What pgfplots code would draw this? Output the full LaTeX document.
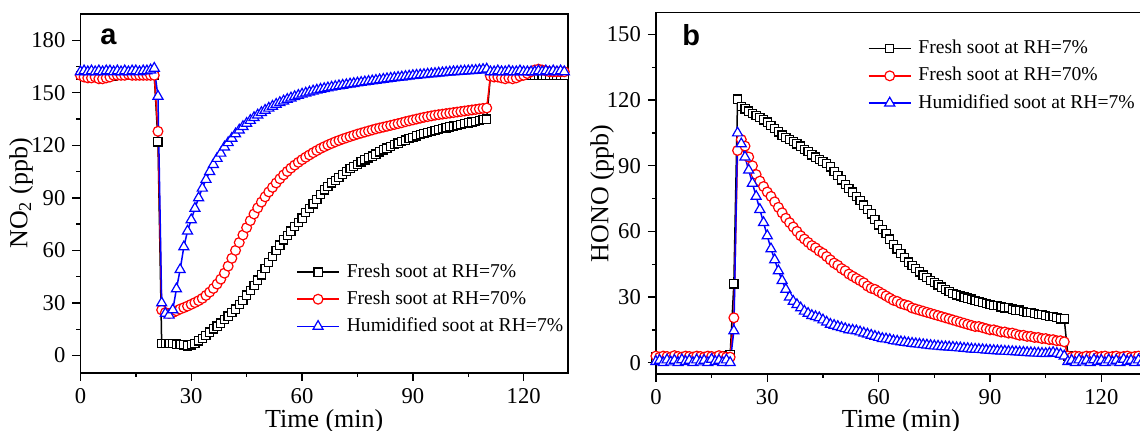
\documentclass[border=0pt]{standalone}
\usepackage{fontspec}
\setmainfont{Liberation Serif}
\newfontfamily\panelfont{Liberation Sans}
\usepackage{pgfplots}
\pgfplotsset{compat=1.18}

\pgfplotsset{
  mystyle/.style={
    scale only axis,
    axis line style={line width=0.8pt},
    xtick pos=bottom, ytick pos=left,
    tick align=outside,
    major tick length=4pt, minor tick length=2pt,
    every tick/.style={line width=0.7pt, black},
    minor x tick num=1, minor y tick num=1,
    /pgf/number format/assume math mode=true,
    ticklabel style={font=\fontsize{11.3}{13}\selectfont},
    legend style={draw=none, fill=none, inner sep=0pt,
      font=\fontsize{9.8}{12}\selectfont, row sep=2.6pt,
      nodes={inner sep=1pt, text height=7pt, text depth=2pt},
      cells={anchor=west}},
    legend cell align=left,
    legend image code/.code={\draw[mark repeat=2,mark phase=2,##1] plot coordinates {(0pt,0pt) (10.5pt,0pt) (21pt,0pt)};\path (23.5pt,0pt);},
    every axis plot/.append style={line width=0.75pt},
  },
  blk/.style={black, mark=square*, mark size=2.05pt, mark options={fill=white, line width=0.6pt}},
  rd/.style={red, mark=*, mark size=2.45pt, mark options={fill=white, line width=0.6pt}},
  bl/.style={blue, mark=triangle*, mark size=2.9pt, mark options={fill=white, line width=0.6pt}},
}

\begin{document}
\begin{tikzpicture}
% ---------------- panel a ----------------
\begin{axis}[mystyle,
  at={(40.2pt,29pt)}, anchor=south west,
  width=243.8pt, height=179.5pt,
  xmin=0, xmax=132, ymin=-10, ymax=195,
  xtick={0,30,60,90,120}, ytick={0,30,60,90,120,150,180},
  xlabel={Time (min)}, ylabel={NO\textsubscript{2} (ppb)},
  every axis x label/.style={at={(axis description cs:0.5,-0.1337)}, anchor=center, font=\fontsize{13}{15}\selectfont},
  every axis y label/.style={at={(axis description cs:-0.1218,0.5)}, anchor=center, rotate=90, font=\fontsize{13}{15}\selectfont},
  legend style={at={(0.442,0.313)}, anchor=north west},
]
\addplot[blk] table[row sep=\\] {x y\\
0 160\\ 1 160\\ 2 160\\ 3 159.5\\ 4 159.5\\ 5 159.5\\ 6 159\\ 7 159\\ 8 159.5\\ 9 159.5\\ 10 160\\
11 160\\ 12 160\\ 13 160\\ 14 160\\ 15 160\\ 16 160\\ 17 160\\ 18 160\\ 19 160\\ 20 160\\
21 122\\ 22 7\\ 23 7\\ 24 7\\ 25 6.8\\ 26 6.5\\ 27 6.3\\ 28 6\\ 29 5.5\\ 30 6\\
31 7\\ 32 8.3\\ 33 9.8\\ 34 11.5\\ 35 13.3\\ 36 15.2\\ 37 16.8\\ 38 18.5\\ 39 20.5\\ 40 22.5\\
41 24.5\\ 42 26.5\\ 43 29\\ 44 31.5\\ 45 34.5\\ 46 37\\ 47 40\\ 48 43\\ 49 46\\ 50 49.5\\
51 53\\ 52 56.5\\ 53 60\\ 54 63\\ 55 66\\ 56 68.5\\ 57 71\\ 58 73.5\\ 59 76\\ 60 78.5\\
61 81.5\\ 62 84\\ 63 86.5\\ 64 89\\ 65 92\\ 66 94.5\\ 67 96.5\\ 68 98.5\\ 69 100\\ 70 101.5\\
71 103.5\\ 72 105\\ 73 106.8\\ 74 108\\ 75 109.2\\ 76 110.5\\ 77 111.7\\ 78 112.8\\ 79 113.9\\ 80 115\\
81 116.2\\ 82 117.4\\ 83 118.4\\ 84 119.4\\ 85 120.4\\ 86 121.3\\ 87 122.2\\ 88 123\\ 89 123.8\\ 90 124.6\\
91 125.4\\ 92 126.1\\ 93 126.7\\ 94 127.3\\ 95 128\\ 96 128.5\\ 97 129\\ 98 129.5\\ 99 130\\ 100 130.5\\
101 131\\ 102 131.4\\ 103 131.9\\ 104 132.3\\ 105 132.8\\ 106 133.3\\ 107 133.7\\ 108 134.1\\ 109 134.6\\ 110 135\\
111 160\\ 112 160\\ 113 160\\ 114 159.5\\ 115 159.5\\ 116 159.5\\ 117 159.5\\ 118 159.5\\ 119 160\\ 120 160\\
121 160\\ 122 160\\ 123 160\\ 124 160\\ 125 160\\ 126 160\\ 127 160\\ 128 160\\ 129 160\\ 130 160\\ 131 160\\
};
\addlegendentry{Fresh soot at RH=7\%}
\addplot[rd] table[row sep=\\] {x y\\
0 160\\ 1 159\\ 2 158.5\\ 3 158.5\\ 4 159\\ 5 158\\ 6 158\\ 7 158.5\\ 8 159\\ 9 160\\ 10 160\\
11 160\\ 12 160\\ 13 160.5\\ 14 160\\ 15 160\\ 16 160\\ 17 160\\ 18 160\\ 19 160\\ 20 160\\
21 128\\ 22 26\\ 23 24.5\\ 24 24\\ 25 24.5\\ 26 25.5\\ 27 26.5\\ 28 27.3\\ 29 28.2\\ 30 29.2\\
31 30.2\\ 32 31.3\\ 33 32.6\\ 34 34.3\\ 35 36.2\\ 36 38.3\\ 37 40.8\\ 38 43.6\\ 39 47\\ 40 51\\
41 55.5\\ 42 60\\ 43 64.5\\ 44 68.8\\ 45 73\\ 46 77\\ 47 80.8\\ 48 84.3\\ 49 87.6\\ 50 90.6\\
51 93.4\\ 52 96\\ 53 98.5\\ 54 100.9\\ 55 103.1\\ 56 105.1\\ 57 107\\ 58 108.7\\ 59 110.3\\ 60 111.8\\
61 113.2\\ 62 114.5\\ 63 115.8\\ 64 117\\ 65 118.2\\ 66 119.2\\ 67 120.2\\ 68 121.1\\ 69 122\\ 70 122.8\\
71 123.6\\ 72 124.3\\ 73 125\\ 74 125.7\\ 75 126.4\\ 76 127\\ 77 127.6\\ 78 128.2\\ 79 128.8\\ 80 129.4\\
81 129.9\\ 82 130.4\\ 83 130.9\\ 84 131.4\\ 85 131.9\\ 86 132.4\\ 87 132.9\\ 88 133.5\\ 89 134\\ 90 134.5\\
91 135\\ 92 135.5\\ 93 136\\ 94 136.4\\ 95 136.8\\ 96 137.2\\ 97 137.5\\ 98 137.8\\ 99 138.1\\ 100 138.4\\
101 138.7\\ 102 139\\ 103 139.3\\ 104 139.6\\ 105 139.9\\ 106 140.2\\ 107 140.5\\ 108 140.8\\ 109 141.1\\ 110 141.3\\
111 159.5\\ 112 159\\ 113 159\\ 114 158.5\\ 115 158\\ 116 158.5\\ 117 158\\ 118 158.5\\ 119 159.5\\ 120 160\\
121 161\\ 122 162\\ 123 163\\ 124 163.5\\ 125 163\\ 126 162.5\\ 127 162\\ 128 162\\ 129 162\\ 130 162\\ 131 162\\
};
\addlegendentry{Fresh soot at RH=70\%}
\addplot[bl] table[row sep=\\] {x y\\
0 162\\ 1 162.5\\ 2 162\\ 3 162.5\\ 4 162\\ 5 162.5\\ 6 162\\ 7 162.5\\ 8 162.5\\ 9 162\\ 10 162.5\\
11 162\\ 12 162.5\\ 13 162\\ 14 162.5\\ 15 162.5\\ 16 162\\ 17 162.5\\ 18 162.5\\ 19 163\\ 20 164\\
21 148\\ 22 30\\ 23 24\\ 24 23\\ 25 26\\ 26 38\\ 27 49\\ 28 62\\ 29 71\\ 30 77.5\\
31 84\\ 32 90\\ 33 95.5\\ 34 100.5\\ 35 105\\ 36 109\\ 37 112.5\\ 38 115.5\\ 39 119\\ 40 121.5\\
41 124\\ 42 126.5\\ 43 128.7\\ 44 130.7\\ 45 132.5\\ 46 134.2\\ 47 135.8\\ 48 137.3\\ 49 138.7\\ 50 140\\
51 141.2\\ 52 142.3\\ 53 143.4\\ 54 144.4\\ 55 145.3\\ 56 146.2\\ 57 147\\ 58 147.8\\ 59 148.5\\ 60 149.2\\
61 149.8\\ 62 150.4\\ 63 151\\ 64 151.5\\ 65 152\\ 66 152.4\\ 67 152.8\\ 68 153.2\\ 69 153.6\\ 70 154\\
71 154.3\\ 72 154.6\\ 73 155\\ 74 155.3\\ 75 155.6\\ 76 155.9\\ 77 156.2\\ 78 156.5\\ 79 156.8\\ 80 157.1\\
81 157.4\\ 82 157.7\\ 83 158\\ 84 158.3\\ 85 158.5\\ 86 158.8\\ 87 159\\ 88 159.3\\ 89 159.5\\ 90 159.8\\
91 160\\ 92 160.2\\ 93 160.4\\ 94 160.6\\ 95 160.8\\ 96 161\\ 97 161.2\\ 98 161.4\\ 99 161.6\\ 100 161.8\\
101 162\\ 102 162.1\\ 103 162.3\\ 104 162.4\\ 105 162.5\\ 106 162.7\\ 107 162.8\\ 108 163\\ 109 163.3\\ 110 163.5\\
111 162\\ 112 162\\ 113 162.5\\ 114 162\\ 115 162\\ 116 162.5\\ 117 162\\ 118 162\\ 119 162.5\\ 120 162\\
121 162\\ 122 162\\ 123 162\\ 124 162.5\\ 125 162\\ 126 162.5\\ 127 162\\ 128 162.5\\ 129 162\\ 130 162.5\\ 131 162\\
};
\addlegendentry{Humidified soot at RH=7\%}
\node[anchor=base west, font=\panelfont\bfseries\fontsize{14.5}{17}\selectfont] at (axis cs:3.5,177.5) {a};
\end{axis}

% ---------------- panel b ----------------
\begin{axis}[mystyle,
  at={(327.95pt,28.5pt)}, anchor=south west,
  width=245pt, height=180.65pt,
  xmin=0, xmax=132, ymin=-5.2, ymax=160,
  xtick={0,30,60,90,120}, ytick={0,30,60,90,120,150},
  xlabel={Time (min)}, ylabel={HONO (ppb)},
  every axis x label/.style={at={(axis description cs:0.5,-0.130)}, anchor=center, font=\fontsize{13}{15}\selectfont},
  every axis y label/.style={at={(axis description cs:-0.110,0.5)}, anchor=center, rotate=90, font=\fontsize{13}{15}\selectfont},
  legend style={at={(0.432,0.932)}, anchor=north west},
]
\addplot[blk] table[row sep=\\] {x y\\
0 2.5\\ 1 2.8\\ 2 2.5\\ 3 2.6\\ 4 2.8\\ 5 2.5\\ 6 2.6\\ 7 2.8\\ 8 2.5\\ 9 2.6\\ 10 2.8\\
11 2.5\\ 12 2.6\\ 13 2.8\\ 14 2.5\\ 15 2.6\\ 16 2.8\\ 17 2.6\\ 18 2.8\\ 19 3\\ 20 3.5\\
21 36\\ 22 120.5\\ 23 117\\ 24 116\\ 25 115\\ 26 114\\ 27 113\\ 28 112\\ 29 111\\ 30 110\\
31 108.5\\ 32 107\\ 33 105.5\\ 34 104\\ 35 103\\ 36 102\\ 37 101\\ 38 100\\ 39 99\\ 40 97.5\\
41 96.5\\ 42 95\\ 43 94\\ 44 93\\ 45 92\\ 46 91\\ 47 89.5\\ 48 87.5\\ 49 85.5\\ 50 83.5\\
51 81.5\\ 52 79.5\\ 53 78\\ 54 76\\ 55 74\\ 56 72\\ 57 70\\ 58 68\\ 59 65.5\\ 60 63\\
61 61\\ 62 59\\ 63 56.5\\ 64 54\\ 65 52\\ 66 50\\ 67 48\\ 68 46\\ 69 44.5\\ 70 43\\
71 41.5\\ 72 40\\ 73 39\\ 74 37.5\\ 75 36.5\\ 76 35.5\\ 77 34.5\\ 78 33.5\\ 79 32.5\\ 80 31.5\\
81 31\\ 82 30.5\\ 83 30\\ 84 29.5\\ 85 29\\ 86 28.5\\ 87 28\\ 88 27.5\\ 89 27\\ 90 26.5\\
91 26\\ 92 26\\ 93 25.5\\ 94 25\\ 95 25\\ 96 24.5\\ 97 24\\ 98 24\\ 99 23.5\\ 100 23\\
101 23\\ 102 22.5\\ 103 22\\ 104 22\\ 105 21.5\\ 106 21\\ 107 21\\ 108 20.5\\ 109 20\\ 110 20\\
111 3\\ 112 2.5\\ 113 2.8\\ 114 2.5\\ 115 2.6\\ 116 2.8\\ 117 2.5\\ 118 2.6\\ 119 2.8\\ 120 2.5\\
121 2.6\\ 122 2.8\\ 123 2.5\\ 124 2.6\\ 125 2.8\\ 126 2.5\\ 127 2.6\\ 128 2.8\\ 129 2.5\\ 130 2.6\\ 131 2.8\\
};
\addlegendentry{Fresh soot at RH=7\%}
\addplot[rd] table[row sep=\\] {x y\\
0 3\\ 1 2.5\\ 2 3\\ 3 2.8\\ 4 2.5\\ 5 3.2\\ 6 2.8\\ 7 2.5\\ 8 3\\ 9 2.8\\ 10 2.5\\
11 3\\ 12 2.8\\ 13 2.5\\ 14 3\\ 15 2.8\\ 16 2.5\\ 17 3.2\\ 18 2.8\\ 19 2.5\\ 20 2.5\\
21 20.5\\ 22 97\\ 23 102\\ 24 99\\ 25 94\\ 26 90\\ 27 86\\ 28 83\\ 29 80.5\\ 30 78\\
31 76\\ 32 73.5\\ 33 71\\ 34 68.5\\ 35 66\\ 36 64\\ 37 62\\ 38 60\\ 39 58\\ 40 56.5\\
41 55\\ 42 53.5\\ 43 52.5\\ 44 51\\ 45 50\\ 46 48.5\\ 47 47\\ 48 45.5\\ 49 44.5\\ 50 43\\
51 42\\ 52 40.5\\ 53 39.5\\ 54 38.5\\ 55 37.5\\ 56 36.5\\ 57 35\\ 58 34\\ 59 33.5\\ 60 32.5\\
61 31.5\\ 62 30.5\\ 63 29.5\\ 64 28.5\\ 65 28\\ 66 27\\ 67 26.5\\ 68 26\\ 69 25\\ 70 24.5\\
71 24\\ 72 23.5\\ 73 23\\ 74 22.5\\ 75 22\\ 76 21.5\\ 77 21\\ 78 20.5\\ 79 20\\ 80 19.5\\
81 19\\ 82 18.5\\ 83 18\\ 84 17.5\\ 85 17\\ 86 16.5\\ 87 16.5\\ 88 16\\ 89 15.5\\ 90 15\\
91 15\\ 92 14.5\\ 93 14\\ 94 14\\ 95 13.5\\ 96 13.5\\ 97 13\\ 98 12.5\\ 99 12.5\\ 100 12\\
101 12\\ 102 11.5\\ 103 11.5\\ 104 11\\ 105 11\\ 106 10.5\\ 107 10.5\\ 108 10\\ 109 10\\ 110 9.5\\
111 3\\ 112 2.5\\ 113 3\\ 114 2.8\\ 115 2.5\\ 116 3\\ 117 2.8\\ 118 3.2\\ 119 2.5\\ 120 2.8\\
121 3\\ 122 2.5\\ 123 2.8\\ 124 3\\ 125 2.5\\ 126 2.8\\ 127 3\\ 128 2.5\\ 129 2.8\\ 130 3\\ 131 2.5\\
};
\addlegendentry{Fresh soot at RH=70\%}
\addplot[bl] table[row sep=\\] {x y\\
0 0.5\\ 1 1\\ 2 0\\ 3 1.2\\ 4 0.3\\ 5 1\\ 6 0\\ 7 1.3\\ 8 0.5\\ 9 1\\ 10 0\\
11 1.2\\ 12 0.3\\ 13 1\\ 14 0\\ 15 1.5\\ 16 0.5\\ 17 1\\ 18 0\\ 19 1.2\\ 20 0\\
21 14.5\\ 22 105\\ 23 100\\ 24 94\\ 25 88\\ 26 82\\ 27 76\\ 28 70\\ 29 64\\ 30 58\\
31 52\\ 32 47\\ 33 42\\ 34 37.5\\ 35 33.5\\ 36 30\\ 37 28\\ 38 26.5\\ 39 25\\ 40 23.5\\
41 22.5\\ 42 21.5\\ 43 21\\ 44 20.5\\ 45 19.5\\ 46 18.5\\ 47 17.5\\ 48 17\\ 49 16.5\\ 50 16\\
51 15.5\\ 52 15\\ 53 14.8\\ 54 14.5\\ 55 14\\ 56 13.5\\ 57 13\\ 58 12.5\\ 59 12\\ 60 11.5\\
61 11\\ 62 10.8\\ 63 10.5\\ 64 10\\ 65 9.8\\ 66 9.5\\ 67 9.3\\ 68 9\\ 69 8.8\\ 70 8.6\\
71 8.4\\ 72 8.2\\ 73 8\\ 74 7.8\\ 75 7.6\\ 76 7.5\\ 77 7.3\\ 78 7.2\\ 79 7.1\\ 80 7\\
81 6.8\\ 82 6.7\\ 83 6.5\\ 84 6.4\\ 85 6.2\\ 86 6.1\\ 87 6\\ 88 5.9\\ 89 5.7\\ 90 5.6\\
91 5.5\\ 92 5.4\\ 93 5.3\\ 94 5.2\\ 95 5.1\\ 96 5\\ 97 4.9\\ 98 4.8\\ 99 4.7\\ 100 4.6\\
101 4.5\\ 102 4.4\\ 103 4.3\\ 104 4.2\\ 105 4.1\\ 106 4.3\\ 107 4.6\\ 108 4.2\\ 109 3.8\\ 110 3\\
111 0.5\\ 112 1\\ 113 0\\ 114 1.2\\ 115 0.3\\ 116 1\\ 117 0\\ 118 1.3\\ 119 0.5\\ 120 1\\
121 0\\ 122 1.2\\ 123 0.3\\ 124 1\\ 125 0\\ 126 1.5\\ 127 0.5\\ 128 1\\ 129 0\\ 130 1.2\\ 131 0.3\\
};
\addlegendentry{Humidified soot at RH=7\%}
\node[anchor=base west, font=\panelfont\bfseries\fontsize{14.5}{17}\selectfont] at (axis cs:5.2,145) {b};
\end{axis}
\pgfresetboundingbox
\useasboundingbox (0,0) rectangle (570pt,215.5pt);
\end{tikzpicture}
\end{document}
